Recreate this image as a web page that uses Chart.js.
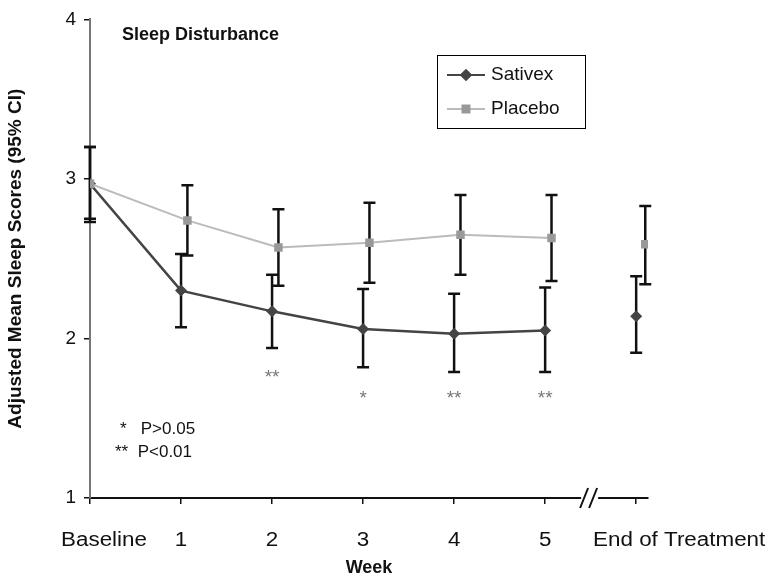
<!DOCTYPE html>
<html>
<head>
<meta charset="utf-8">
<script src="https://cdn.jsdelivr.net/npm/chart.js@4"></script>
<style>body{margin:0;background:#fff}canvas{display:block}</style>
</head>
<body>
<canvas id="c" width="773" height="583"></canvas>
<script>
const weekLabels = ["Baseline", "1", "2", "3", "4", "5", "End of Treatment"];
const weekPos = [0, 1, 2, 3, 4, 5, 6];
const labelShift = [14, 0, 0, 0, 0, 0, 43];
const sativexMean = [2.97, 2.30, 2.17, 2.06, 2.03, 2.05, 2.14];
const sativexLow = [2.75, 2.07, 1.94, 1.82, 1.79, 1.79, 1.91];
const sativexHigh = [3.20, 2.53, 2.40, 2.31, 2.28, 2.32, 2.39];
const placeboMean = [2.97, 2.74, 2.57, 2.60, 2.65, 2.63, 2.59];
const placeboLow = [2.73, 2.52, 2.33, 2.35, 2.40, 2.36, 2.34];
const placeboHigh = [3.20, 2.96, 2.81, 2.85, 2.90, 2.90, 2.83];
const placeboShift = [0, 0.07, 0.07, 0.07, 0.07, 0.07, 0.1];
const sigMarks = [["**", 2, 1.72], ["*", 3, 1.59], ["**", 4, 1.59], ["**", 5, 1.59]];

function series(mean, shift) {
  const pts = [];
  for (let i = 0; i < mean.length; i++) {
    if (i == mean.length - 1) pts.push({x: 5.5, y: null});
    pts.push({x: weekPos[i] + shift[i], y: mean[i]});
  }
  return pts;
}

const extras = {
  id: 'extras',
  beforeDatasetsDraw(chart) {
    const c = chart.ctx, xs = chart.scales.x, ys = chart.scales.y;
    c.save();
    c.strokeStyle = '#111'; c.lineWidth = 2.5;
    const bars = [[sativexLow, sativexHigh, weekPos.map(() => 0)], [placeboLow, placeboHigh, placeboShift]];
    bars.forEach(([lo, hi, sh]) => {
      for (let i = 0; i < lo.length; i++) {
        const x = xs.getPixelForValue(weekPos[i] + sh[i]);
        const y1 = ys.getPixelForValue(lo[i]), y2 = ys.getPixelForValue(hi[i]);
        c.beginPath();
        c.moveTo(x, y1); c.lineTo(x, y2);
        c.moveTo(x - 6, y1); c.lineTo(x + 6, y1);
        c.moveTo(x - 6, y2); c.lineTo(x + 6, y2);
        c.stroke();
      }
    });
    c.restore();
  },
  afterDatasetsDraw(chart) {
    const c = chart.ctx, xs = chart.scales.x, ys = chart.scales.y;
    c.save();
    // x tick labels
    c.fillStyle = '#111'; c.font = '20px "Liberation Sans"'; c.textAlign = 'center'; c.textBaseline = 'middle';
    weekLabels.forEach((t, i) => {
      c.save();
      c.translate(xs.getPixelForValue(weekPos[i]) + labelShift[i], 540);
      c.scale(1.12, 1);
      c.fillText(t, 0, 0);
      c.restore();
    });
    c.textBaseline = 'alphabetic';
    // significance marks
    c.fillStyle = '#777'; c.font = '19px "Liberation Sans"';
    sigMarks.forEach(([t, x, y]) => c.fillText(t, xs.getPixelForValue(x), ys.getPixelForValue(y)));
    c.fillStyle = '#111'; c.font = '17px "Liberation Sans"'; c.textAlign = 'left';
    c.fillText('*   P>0.05', xs.left + 30, ys.getPixelForValue(1.4));
    c.fillText('**  P<0.01', xs.left + 25, ys.getPixelForValue(1.26));
    // title
    c.font = 'bold 18px "Liberation Sans"';
    c.fillText('Sleep Disturbance', xs.left + 32, ys.top + 21);
    // legend
    c.strokeStyle = '#000'; c.lineWidth = 1;
    c.strokeRect(437.5, 55.5, 148, 73);
    c.font = '19px "Liberation Sans"'; c.textBaseline = 'middle';
    [['Sativex', '#444', '#444', 75, true], ['Placebo', '#bbb', '#999', 109, false]].forEach(([t, lc, mc, y, dia]) => {
      c.strokeStyle = lc; c.lineWidth = 2;
      c.beginPath(); c.moveTo(447, y); c.lineTo(485, y); c.stroke();
      c.fillStyle = mc;
      c.save(); c.translate(466, y); if (dia) c.rotate(Math.PI / 4);
      c.fillRect(-4.5, -4.5, 9, 9); c.restore();
      c.fillStyle = '#111'; c.fillText(t, 491, y);
    });
    // axis break
    const by = ys.bottom, bx = xs.getPixelForValue(5.45);
    c.strokeStyle = '#fff'; c.lineWidth = 6;
    c.beginPath(); c.moveTo(bx - 5, by); c.lineTo(bx + 12, by); c.stroke();
    c.strokeStyle = '#111'; c.lineWidth = 2;
    c.beginPath();
    c.moveTo(bx - 6, by + 10); c.lineTo(bx + 2, by - 10);
    c.moveTo(bx + 3, by + 10); c.lineTo(bx + 11, by - 10);
    c.stroke();
    c.restore();
  }
};

new Chart(document.getElementById('c'), {
  type: 'line',
  data: {
    datasets: [
      {label: 'Placebo', data: series(placeboMean, placeboShift), borderColor: '#bbb', backgroundColor: '#999',
       borderWidth: 2, pointStyle: 'rect', pointRadius: 6, pointBorderWidth: 0, spanGaps: false},
      {label: 'Sativex', data: series(sativexMean, weekPos.map(() => 0)), borderColor: '#444', backgroundColor: '#444',
       borderWidth: 2.5, pointStyle: 'rectRot', pointRadius: 6, pointBorderWidth: 0, spanGaps: false}
    ]
  },
  options: {
    responsive: false, animation: false,
    layout: {padding: {top: 17, right: 125, left: 0, bottom: 0}},
    plugins: {legend: {display: false}, tooltip: {enabled: false}},
    scales: {
      x: {
        type: 'linear', min: 0, max: 6.13,
        afterBuildTicks: s => { s.ticks = weekPos.map(v => ({value: v})); },
        afterFit: s => { s.height = 85; },
        ticks: {callback: () => '', maxRotation: 0, autoSkip: false},
        grid: {drawOnChartArea: false, tickLength: 6, color: '#111', lineWidth: 1.5},
        border: {color: '#111', width: 2},
        title: {display: true, text: 'Week', color: '#111', font: {family: 'Liberation Sans', size: 18, weight: 'bold'}, padding: {top: 48}}
      },
      y: {
        min: 1, max: 4,
        afterBuildTicks: s => { s.ticks = [1, 2, 3, 4].map(v => ({value: v})); },
        afterFit: s => { s.width = 90; },
        ticks: {color: '#111', font: {family: 'Liberation Sans', size: 19}, padding: 8},
        grid: {drawOnChartArea: false, tickLength: 6, color: '#111', lineWidth: 1.5},
        border: {color: '#777', width: 2},
        title: {display: true, text: 'Adjusted Mean Sleep Scores (95% CI)', color: '#111', font: {family: 'Liberation Sans', size: 19, weight: 'bold'}, padding: {bottom: 6}}
      }
    }
  },
  plugins: [extras]
});
</script>
</body>
</html>
